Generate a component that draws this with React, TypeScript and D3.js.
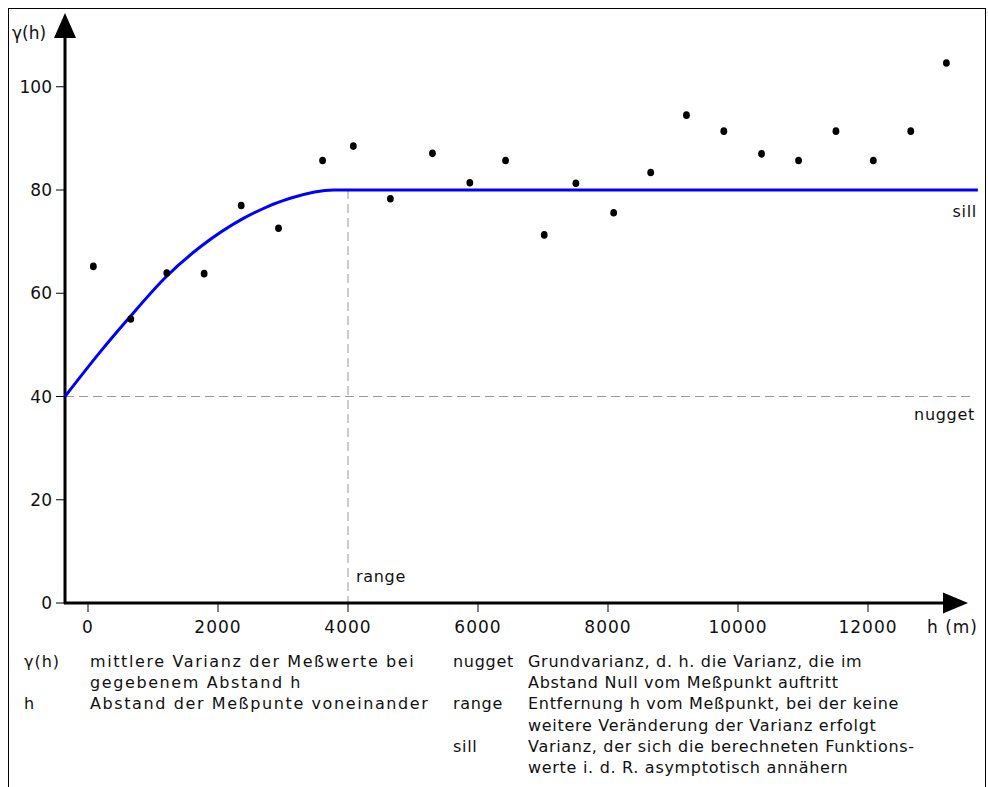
import * as d3 from "d3";

// empirical semivariogram: lag distance h (m) and mean variance γ(h)
const lagH = [82, 658, 1212, 1787, 2357, 2931, 3609, 4082, 4652, 5299, 5874, 6424,
  7019, 7506, 8087, 8657, 9207, 9782, 10362, 10932, 11507, 12082, 12658, 13206];
const lagGamma = [65.2, 55, 63.9, 63.8, 77, 72.6, 85.7, 88.5, 78.3, 87.1, 81.4, 85.7,
  71.3, 81.3, 75.6, 83.4, 94.5, 91.4, 87, 85.7, 91.4, 85.7, 91.4, 104.6];

// fitted model curve
const modelH = [-354, 185, 650, 1210, 1730, 2390, 3110, 3780, 4000, 13690];
const modelGamma = [40, 48.6, 55.5, 63.3, 69.0, 74.5, 78.4, 80, 80, 80];

const nugget = 40;
const sill = 80;
const range = 4000;

const xTicks = [0, 2000, 4000, 6000, 8000, 10000, 12000];
const yTicks = [0, 20, 40, 60, 80, 100];

// legend rows: [term, description lines]
const legendLeft: [string, string[]][] = [
  ["γ(h)", ["mittlere Varianz der Meßwerte bei", "gegebenem Abstand h"]],
  ["h", ["Abstand der Meßpunte voneinander"]],
];
const legendRight: [string, string[]][] = [
  ["nugget", ["Grundvarianz, d. h. die Varianz, die im", "Abstand Null vom Meßpunkt auftritt"]],
  ["range", ["Entfernung h vom Meßpunkt, bei der keine", "weitere Veränderung der Varianz erfolgt"]],
  ["sill", ["Varianz, der sich die berechneten Funktions-", "werte i. d. R. asymptotisch annähern"]],
];

const W = 988;
const H = 787;
const font = "DejaVu Sans";

export default function App() {
  const x = d3.scaleLinear().domain([0, 12000]).range([88, 868]);
  const y = d3.scaleLinear().domain([0, 80]).range([603, 190]);

  const axisX = 65; // y-axis position
  const axisY = y(0);
  const xEnd = 968;
  const yTop = 13;

  const model = d3
    .line<number>()
    .x((d) => x(d))
    .y((_, i) => y(modelGamma[i]))
    .curve(d3.curveMonotoneX)(modelH);

  const lineH = 21.2;
  const legTop = 667;

  let row = 0;
  const leftRows = legendLeft.map(([term, lines]) => {
    const r = row;
    row += lines.length;
    return { term, lines, r };
  });
  row = 0;
  const rightRows = legendRight.map(([term, lines]) => {
    const r = row;
    row += lines.length;
    return { term, lines, r };
  });

  return (
    <svg
      width={W}
      height={H}
      style={{ position: "absolute", left: 0, top: 0, background: "#fff" }}
      fontFamily={font}
    >
      <rect x={8.5} y={8.5} width={977} height={H + 10} fill="none" stroke="#000" />

      {/* reference lines */}
      <line x1={axisX} x2={970} y1={y(nugget)} y2={y(nugget)}
        stroke="#999" strokeDasharray="9,5" />
      <line x1={x(range)} x2={x(range)} y1={y(sill)} y2={axisY}
        stroke="#999" strokeDasharray="9,5" />

      {/* axes */}
      <line x1={axisX} x2={axisX} y1={axisY + 1} y2={yTop + 10} stroke="#000" strokeWidth={3} />
      <path d={`M${axisX},${yTop} L${axisX - 11},${yTop + 25} L${axisX + 11},${yTop + 25} Z`} fill="#000" />
      <line x1={axisX - 1} x2={xEnd - 10} y1={axisY} y2={axisY} stroke="#000" strokeWidth={3} />
      <path d={`M${xEnd},${axisY} L${xEnd - 25},${axisY - 10.5} L${xEnd - 25},${axisY + 10.5} Z`} fill="#000" />

      {yTicks.map((t) => (
        <g key={t}>
          <line x1={axisX - 9} x2={axisX} y1={y(t)} y2={y(t)} stroke="#000" />
          <text x={axisX - 13} y={y(t)} dy="0.36em" textAnchor="end" fontSize={17} fill="#111">
            {t}
          </text>
        </g>
      ))}
      {xTicks.map((t) => (
        <g key={t}>
          <line x1={x(t)} x2={x(t)} y1={axisY} y2={axisY + 9} stroke="#000" />
          <text x={x(t)} y={633} textAnchor="middle" fontSize={17} letterSpacing={1} fill="#111">
            {t}
          </text>
        </g>
      ))}

      <text x={12} y={39} fontSize={17} fill="#111">γ(h)</text>
      <text x={927} y={633} fontSize={17} letterSpacing={1} fill="#111">h (m)</text>

      {/* model curve */}
      <path d={model ?? ""} fill="none" stroke="#0000ff" strokeWidth={3} />

      {/* empirical points */}
      {lagH.map((h, i) => (
        <ellipse key={i} cx={x(h)} cy={y(lagGamma[i])} rx={3.4} ry={3.8} fill="#000" />
      ))}

      <text x={977} y={217} textAnchor="end" fontSize={16} letterSpacing={0.7} fill="#111">sill</text>
      <text x={975} y={420} textAnchor="end" fontSize={16} letterSpacing={0.7} fill="#111">nugget</text>
      <text x={x(range) + 8} y={582} fontSize={16} letterSpacing={0.7} fill="#111">range</text>

      {/* legend */}
      {leftRows.map(({ term, lines, r }) => (
        <g key={term}>
          <text x={24} y={legTop + r * lineH} fontSize={16} letterSpacing={1} fill="#111">{term}</text>
          {lines.map((l, j) => (
            <text key={j} x={90} y={legTop + (r + j) * lineH} fontSize={16} letterSpacing={1.6} fill="#111">{l}</text>
          ))}
        </g>
      ))}
      {rightRows.map(({ term, lines, r }) => (
        <g key={term}>
          <text x={453} y={legTop + r * lineH} fontSize={16} letterSpacing={0.7} fill="#111">{term}</text>
          {lines.map((l, j) => (
            <text key={j} x={528} y={legTop + (r + j) * lineH} fontSize={16} letterSpacing={0.7} fill="#111">{l}</text>
          ))}
        </g>
      ))}
    </svg>
  );
}
